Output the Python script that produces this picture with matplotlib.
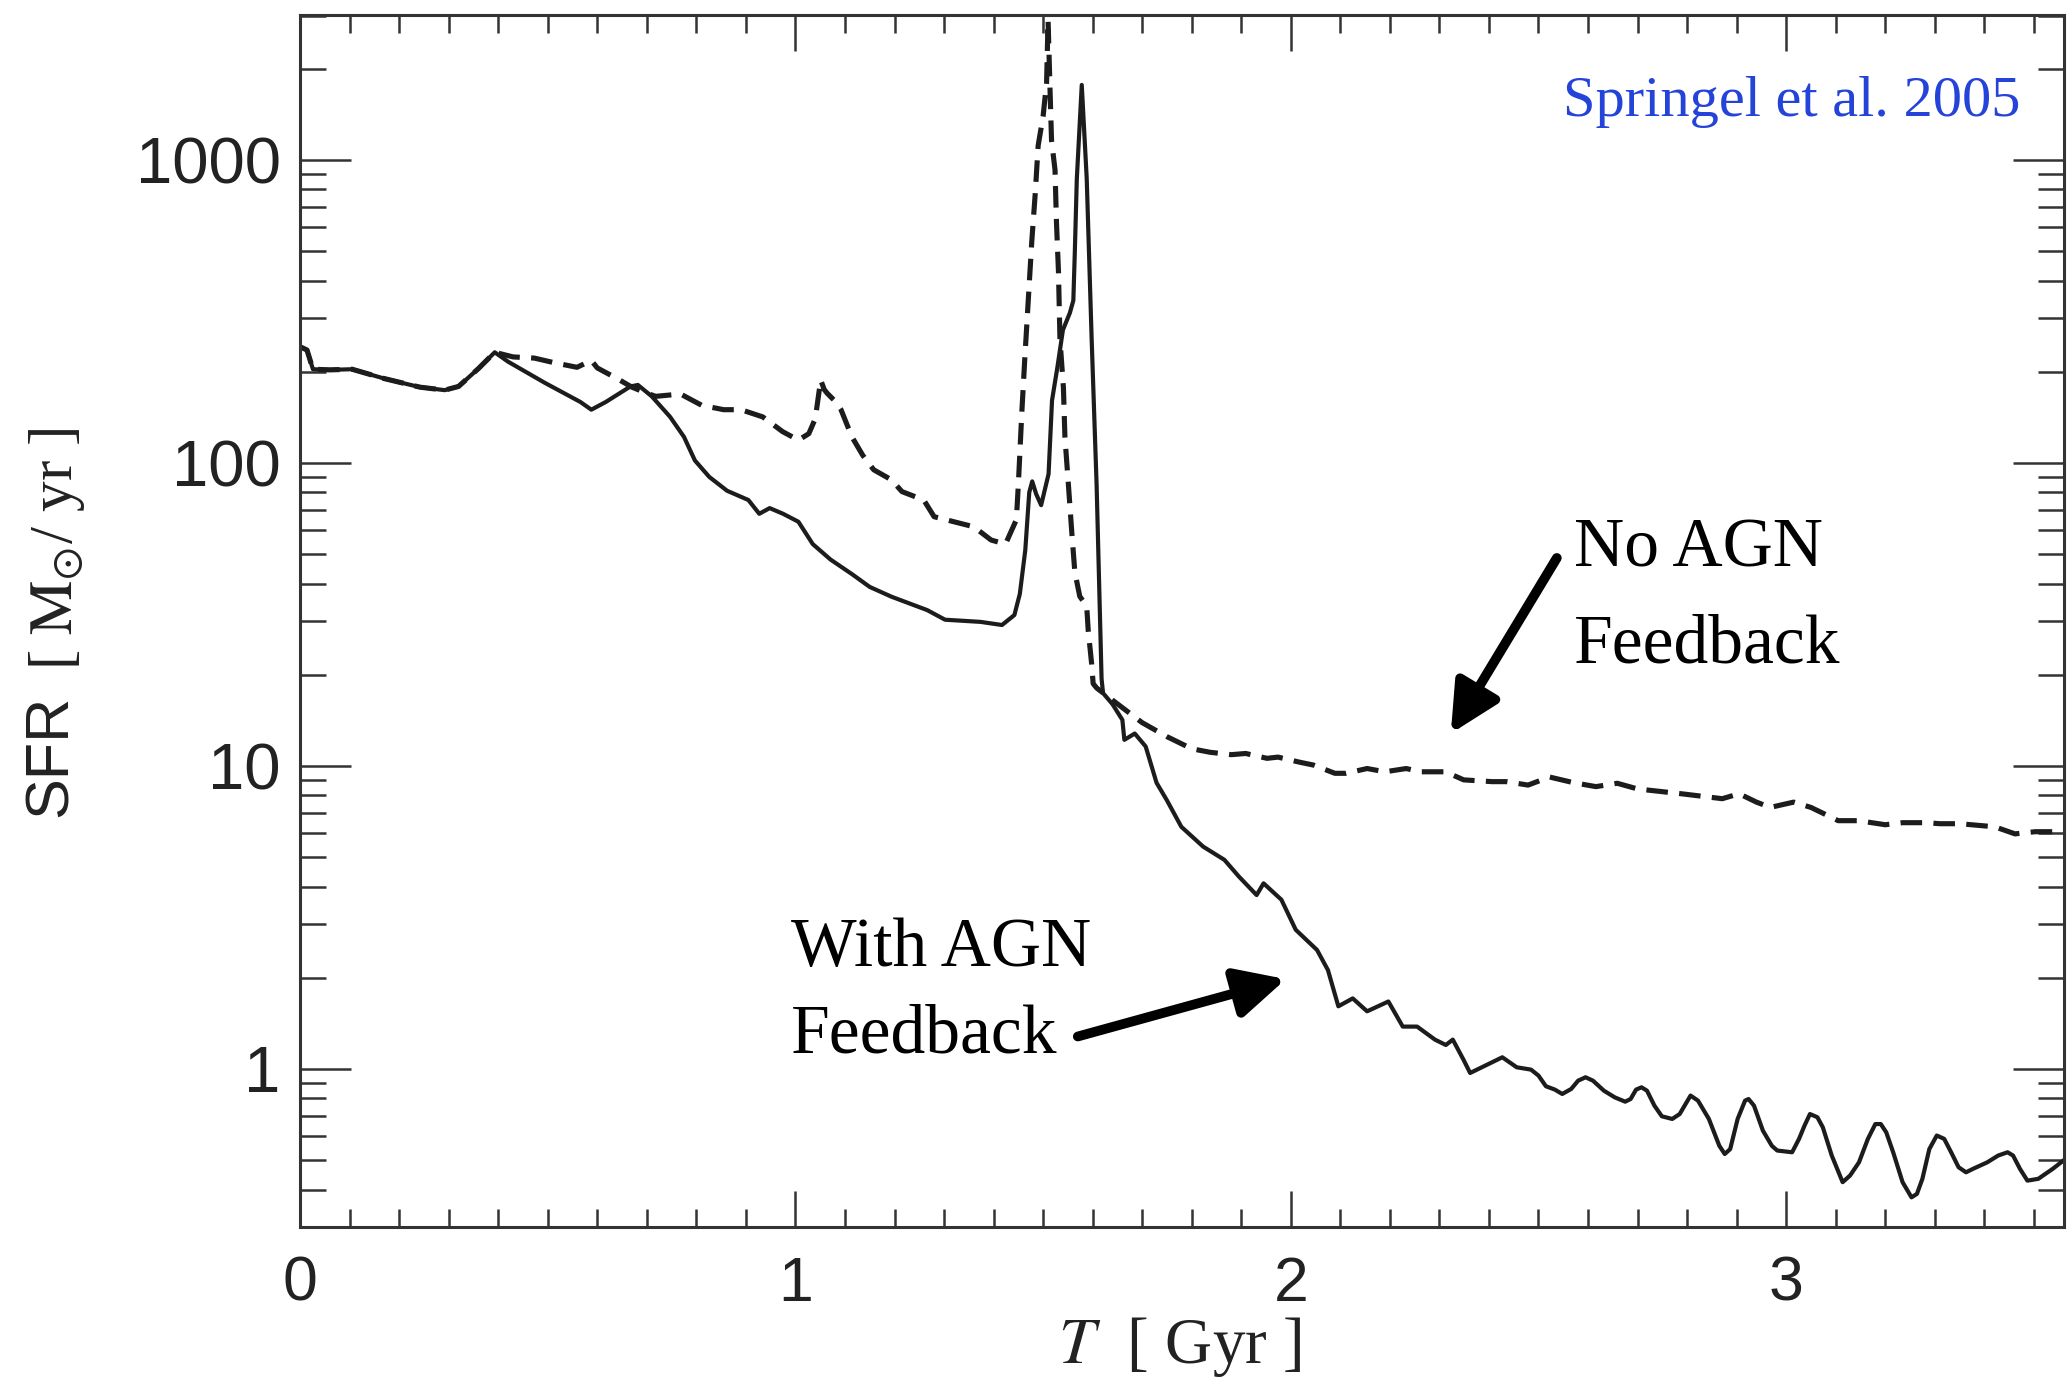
import numpy as np
import matplotlib
matplotlib.use('Agg')
from matplotlib import pyplot as plt
from matplotlib.ticker import MultipleLocator, LogLocator, NullFormatter

plt.rcParams['mathtext.fontset'] = 'stix'

# star formation rate with AGN feedback (solid)
t_agn = [0.000, 0.014, 0.026, 0.060, 0.105, 0.170, 0.242, 0.292, 0.320, 0.360,
         0.393, 0.420, 0.494, 0.566, 0.588, 0.617, 0.667, 0.682, 0.710, 0.747,
         0.775, 0.797, 0.826, 0.862, 0.905, 0.927, 0.948, 0.975, 1.006, 1.035,
         1.071, 1.114, 1.150, 1.194, 1.266, 1.302, 1.374, 1.417, 1.442, 1.453,
         1.464, 1.472, 1.478, 1.486, 1.496, 1.511, 1.518, 1.529, 1.540, 1.554,
         1.561, 1.564, 1.568, 1.578, 1.588, 1.598, 1.608, 1.618, 1.621, 1.640,
         1.660, 1.664, 1.685, 1.707, 1.729, 1.750, 1.779, 1.823, 1.866, 1.895,
         1.931, 1.945, 1.981, 2.010, 2.053, 2.075, 2.096, 2.125, 2.154, 2.197,
         2.226, 2.255, 2.291, 2.313, 2.327, 2.349, 2.362, 2.400,
         2.427, 2.456, 2.485, 2.500, 2.515, 2.533, 2.548, 2.566, 2.580, 2.595,
         2.610, 2.632, 2.654, 2.675, 2.686, 2.697, 2.708, 2.719, 2.734, 2.749,
         2.770, 2.785, 2.807, 2.822, 2.844, 2.865, 2.876, 2.887, 2.902, 2.917,
         2.924, 2.935, 2.953, 2.971, 2.982, 3.012, 3.026, 3.037, 3.048, 3.063,
         3.074, 3.092, 3.114, 3.129, 3.147, 3.165, 3.180, 3.191, 3.202, 3.216,
         3.235, 3.253, 3.264, 3.275, 3.289, 3.304, 3.319, 3.333, 3.348, 3.363,
         3.377, 3.406, 3.428, 3.447, 3.458, 3.472, 3.487, 3.509, 3.538, 3.564]
sfr_agn = [242, 236, 204, 203, 204, 190, 178, 174, 179, 205,
           232, 216, 184, 159, 150, 159, 179, 181, 166, 142,
           122, 102, 90, 81, 75.5, 68, 71, 68, 64, 54,
           48, 43, 39, 36.2, 32.7, 30.4, 29.9, 29.2, 31.5, 37,
           51.6, 80, 87, 79, 72.6, 92, 161, 208, 275, 313,
           344, 497, 865, 1770, 870, 256, 84.5, 19.4, 17.4, 16.0,
           14.2, 12.2, 12.8, 11.6, 8.8, 7.7, 6.3, 5.42, 4.90, 4.32,
           3.75, 4.10, 3.62, 2.88, 2.47, 2.12, 1.61, 1.71, 1.55, 1.67,
           1.38, 1.38, 1.25, 1.20, 1.25, 1.07, 0.97, 1.04,
           1.093, 1.013, 0.995, 0.951, 0.877, 0.855, 0.827, 0.859, 0.915, 0.939,
           0.915, 0.848, 0.806, 0.780, 0.796, 0.855, 0.870, 0.848, 0.757, 0.698,
           0.684, 0.710, 0.817, 0.786, 0.684, 0.558, 0.524, 0.544, 0.684, 0.786,
           0.796, 0.757, 0.626, 0.558, 0.538, 0.531, 0.588, 0.650, 0.710, 0.693,
           0.642, 0.518, 0.423, 0.445, 0.492, 0.588, 0.658, 0.658, 0.618, 0.531,
           0.423, 0.377, 0.387, 0.434, 0.544, 0.603, 0.588, 0.531, 0.474, 0.456,
           0.468, 0.492, 0.518, 0.531, 0.518, 0.468, 0.428, 0.434, 0.468, 0.505]

# star formation rate without AGN feedback (dashed)
t_noagn = [0.000, 0.014, 0.026, 0.060, 0.105, 0.170, 0.242, 0.292, 0.320, 0.360,
           0.393, 0.430, 0.473, 0.515, 0.559, 0.588, 0.600, 0.640, 0.670, 0.700,
           0.718, 0.768, 0.811, 0.855, 0.890, 0.934, 0.974, 1.006, 1.027, 1.040,
           1.051, 1.058, 1.064, 1.080, 1.092, 1.114, 1.136, 1.158, 1.194, 1.215,
           1.259, 1.280, 1.320, 1.360, 1.395, 1.424, 1.446, 1.450, 1.457, 1.463,
           1.470, 1.477, 1.484, 1.490, 1.500, 1.507, 1.510, 1.514, 1.517, 1.524,
           1.527, 1.531, 1.534, 1.541, 1.544, 1.551, 1.558, 1.564, 1.574, 1.588,
           1.591, 1.598, 1.601, 1.608, 1.640, 1.700, 1.750, 1.800, 1.837, 1.880,
           1.909, 1.952, 1.974, 2.017, 2.046, 2.089, 2.111, 2.154, 2.190, 2.233,
           2.262, 2.312, 2.349, 2.406, 2.435, 2.479, 2.522, 2.572, 2.616, 2.659,
           2.700, 2.788, 2.871, 2.905, 2.940, 2.968, 3.015, 3.050, 3.077, 3.105,
           3.146, 3.200, 3.235, 3.283, 3.310, 3.350, 3.421, 3.462, 3.503, 3.558]
sfr_noagn = [242, 236, 204, 203, 204, 190, 178, 174, 179, 205,
             232, 224, 222, 214, 207, 218, 206, 190, 178, 170,
             166, 169, 155, 150, 150, 142, 127, 119, 125, 140,
             188, 175, 170, 160, 150, 122, 106, 95, 88, 80.5,
             75.5, 66.5, 64, 61.6, 55.7, 54, 65, 85, 147, 221,
             344, 536, 772, 1117, 1397, 1800, 2900, 1700, 1160, 929,
             620, 428, 256, 177, 122, 85, 58.7, 43.7, 36.3, 33.7,
             28.1, 21.7, 18.7, 18.1, 16.5, 13.9, 12.5, 11.4, 11.1, 10.9,
             11.0, 10.6, 10.7, 10.3, 10.07, 9.46, 9.46, 9.81, 9.57, 9.81,
             9.57, 9.57, 9.0, 8.88, 8.88, 8.65, 9.2, 8.8, 8.55, 8.77,
             8.4, 8.1, 7.8, 8.1, 7.6, 7.3, 7.6, 7.3, 6.95, 6.6,
             6.6, 6.4, 6.5, 6.5, 6.45, 6.45, 6.3, 5.97, 6.07, 6.07]

x_ticks = [0, 1, 2, 3]
x_tick_labels = ['0', '1', '2', '3']
y_ticks = [1, 10, 100, 1000]
y_tick_labels = ['1', '10', '100', '1000']

ink = '#1c1c1c'

fig = plt.figure(figsize=(20.68, 13.8), dpi=100)
ax = fig.add_axes([0.1451, 0.1109, 0.8530, 0.8784])

ax.plot(t_noagn, sfr_noagn, color=ink, lw=3.7, dashes=(4.2, 2.2))
ax.plot(t_agn, sfr_agn, color=ink, lw=3.0)

ax.set_yscale('log')
ax.set_xlim(0, 3.561)
ax.set_ylim(0.301, 3017)

ax.set_xticks(x_ticks, x_tick_labels, fontsize=45, family='Liberation Sans', color='#222222')
ax.set_yticks(y_ticks, y_tick_labels, fontsize=47, family='Liberation Sans', color='#222222')
ax.xaxis.set_minor_locator(MultipleLocator(0.1))
ax.yaxis.set_minor_locator(LogLocator(base=10, subs=np.arange(2, 10)))
ax.yaxis.set_minor_formatter(NullFormatter())

ax.tick_params(which='both', direction='in', top=True, right=True, color='#333333', width=1.8)
ax.tick_params(axis='x', which='major', length=26, pad=20)
ax.tick_params(axis='x', which='minor', length=13)
ax.tick_params(axis='y', which='major', length=37, pad=14)
ax.tick_params(axis='y', which='minor', length=19)
for s in ax.spines.values():
    s.set_linewidth(2.2)
    s.set_color('#333333')

# axis labels
fig.text(0.5706, 0.0123, r'$T$  [ Gyr ]', ha='center', va='baseline',
         fontsize=47, family='Liberation Serif', color='#222222')
fig.text(0.0249, 0.4522, 'SFR', rotation=90, ha='center', va='center',
         fontsize=44, family='Liberation Sans', color='#222222')
fig.text(0.0276, 0.6025, r'[ $\mathrm{M}_{\odot}$/ yr ]', rotation=90, ha='center', va='center',
         fontsize=44, family='Liberation Serif', color='#222222')

# annotations
serif = 'Liberation Serif'
ax.text(3.472, 1397, 'Springel et al. 2005', ha='right', va='baseline',
        fontsize=42, family=serif, color='#2443d9')
ax.text(2.572, 45.4, 'No AGN', ha='left', va='baseline', fontsize=50, family=serif)
ax.text(2.572, 21.9, 'Feedback', ha='left', va='baseline', fontsize=50, family=serif)
ax.text(0.991, 2.19, 'With AGN', ha='left', va='baseline', fontsize=50, family=serif)
ax.text(0.991, 1.13, 'Feedback', ha='left', va='baseline', fontsize=50, family=serif)

arrow = dict(arrowstyle='-|>,head_length=1.1,head_width=0.55', lw=7, color='k',
             shrinkA=0, shrinkB=0, mutation_scale=27)
ax.annotate('', xy=(2.323, 12.8), xytext=(2.537, 48.6), arrowprops=arrow)
ax.annotate('', xy=(1.990, 1.98), xytext=(1.570, 1.28), arrowprops=arrow)

fig.savefig('out.png', dpi=100)
